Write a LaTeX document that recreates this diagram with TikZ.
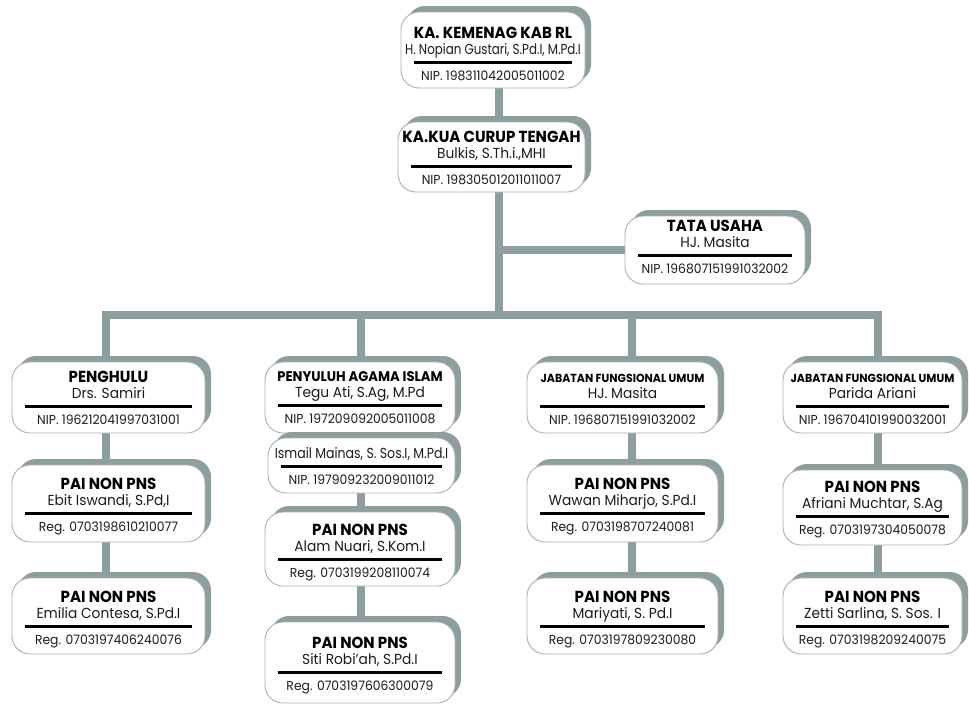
\documentclass[tikz,border=0pt]{standalone}
\usepackage{fontspec}
\setmainfont{Poppins}
\usepackage{graphicx}
\definecolor{connc}{HTML}{8E9E9E}
\definecolor{edgec}{HTML}{A8B0B0}
\definecolor{txtc}{HTML}{1C1C1C}
\pgfdeclarelayer{bg}
\pgfsetlayers{bg,main}
\newcommand\tA{\fontsize{16}{17}\selectfont\bfseries}
\newcommand\tB{\fontsize{16}{17}\selectfont\bfseries}
\newcommand\tC{\fontsize{14}{15}\selectfont\bfseries}
\newcommand\tD{\fontsize{11.7}{12}\selectfont\bfseries}
\newcommand\obox[9]{%
  \fill[shadowbox] (#2+6,#4-6) rectangle (#3+6,#5-6);
  \node[wbox, minimum width={(#3-#2)*1pt}, minimum height={(#5-#4)*1pt}] (#1) at ({(#2+#3)/2},{(#4+#5)/2}) {};
  \draw[ruleline] (#2+13,#6) -- (#3-13,#6);
  \node[ttl] (#1-t) at ({(#2+#3)/2},#6-24) {\scalebox{0.94}[1]{#7}};
  \node[nm] (#1-n) at ({(#2+#3)/2},#6-7.5) {\scalebox{0.95}[1]{#8}};
  \node[idt] (#1-i) at ({(#2+#3)/2},#6+18.5) {\scalebox{0.95}[1]{#9}};
}
\tikzset{
  connector/.style={draw=connc, line width=7.5pt, line join=miter},
  wbox/.style={rectangle, draw=edgec, line width=0.9pt, fill=white, rounded corners=18pt, inner sep=0pt},
  shadowbox/.style={fill=connc, rounded corners=18pt},
  ruleline/.style={draw=black, line width=3pt},
  ttl/.style={anchor=base, inner sep=0pt, text=black},
  nm/.style={anchor=base, inner sep=0pt, text=txtc, font=\fontsize{14.5}{15}\selectfont},
  idt/.style={anchor=base, inner sep=0pt, text=txtc, font=\fontsize{13}{14}\selectfont},
}
\begin{document}
\begin{tikzpicture}[x=1pt,y=-1pt]
\useasboundingbox (0,0) rectangle (969,704);
% top
\obox{kemenag}{401}{585}{12}{88}{62}{\tA KA. KEMENAG KAB RL}{\scalebox{0.86}[1]{H. Nopian Gustari, S.Pd.I, M.Pd.I}}{NIP. 198311042005011002}
\obox{kua}{398}{585}{122}{192}{166}{\tA KA.KUA CURUP TENGAH}{Bulkis, S.Th.i.,MHI}{NIP. 198305012011011007}
\obox{tu}{625}{805}{216}{284}{255}{\tB TATA USAHA}{HJ. Masita}{NIP. 196807151991032002}
% column 1
\obox{phl}{12}{205}{362}{433}{406}{\tB PENGHULU}{Drs. Samiri}{NIP. 196212041997031001}
\obox{aa}{12}{205}{465}{542}{513}{\tB PAI NON PNS}{Ebit Iswandi, S.Pd,I}{Reg. 0703198610210077}
\obox{ab}{12}{205}{578}{654}{626}{\tB PAI NON PNS}{Emilia Contesa, S.Pd.I}{Reg. 0703197406240076}
% column 2
\obox{pai}{265}{455}{362}{433}{405}{\tC PENYULUH AGAMA ISLAM}{Tegu Ati, S.Ag, M.Pd}{NIP. 197209092005011008}
\obox{ism}{268}{455}{438}{493}{466}{}{\scalebox{0.91}[1]{Ismail Mainas, S. Sos.I, M.Pd.I}}{NIP. 197909232009011012}
\obox{ba}{265}{455}{512}{586}{559}{\tB PAI NON PNS}{Alam Nuari, S.Kom.I}{Reg. 0703199208110074}
\obox{bb}{265}{455}{622}{703}{672}{\tB PAI NON PNS}{Siti Robi'ah, S.Pd.I}{Reg. 0703197606300079}
% column 3
\obox{jfa}{527}{718}{362}{433}{406}{\tD JABATAN FUNGSIONAL UMUM}{HJ. Masita}{NIP. 196807151991032002}
\obox{ca}{527}{718}{465}{542}{513}{\tB PAI NON PNS}{Wawan Miharjo, S.Pd.I}{Reg. 0703198707240081}
\obox{cb}{527}{718}{578}{654}{626}{\tB PAI NON PNS}{Mariyati, S. Pd.I}{Reg. 0703197809230080}
% column 4
\obox{jfb}{783}{962}{362}{433}{406}{\tD JABATAN FUNGSIONAL UMUM}{Parida Ariani}{NIP. 196704101990032001}
\obox{da}{783}{962}{470}{545}{516}{\tB PAI NON PNS}{Afriani Muchtar, S.Ag}{Reg. 0703197304050078}
\obox{db}{783}{962}{578}{654}{626}{\tB PAI NON PNS}{Zetti Sarlina, S. Sos. I}{Reg. 0703198209240075}
% connectors
\coordinate (spine) at (499,315);
\coordinate (c1) at (106,315);
\coordinate (c2) at (361,315);
\coordinate (c3) at (632,315);
\coordinate (c4) at (878,315);
\begin{pgfonlayer}{bg}
\fill[white] (0,0) rectangle (969,704);
\draw[connector] (spine |- kemenag.center) -- (spine);
\draw[connector] (spine |- tu.center) -- (tu.center);
\draw[connector] (c1 |- ab.center) -- (c1) -- (c4) -- (c4 |- db.center);
\draw[connector] (c2) -- (c2 |- bb.center);
\draw[connector] (c3) -- (c3 |- cb.center);
\end{pgfonlayer}
\end{tikzpicture}
\end{document}
